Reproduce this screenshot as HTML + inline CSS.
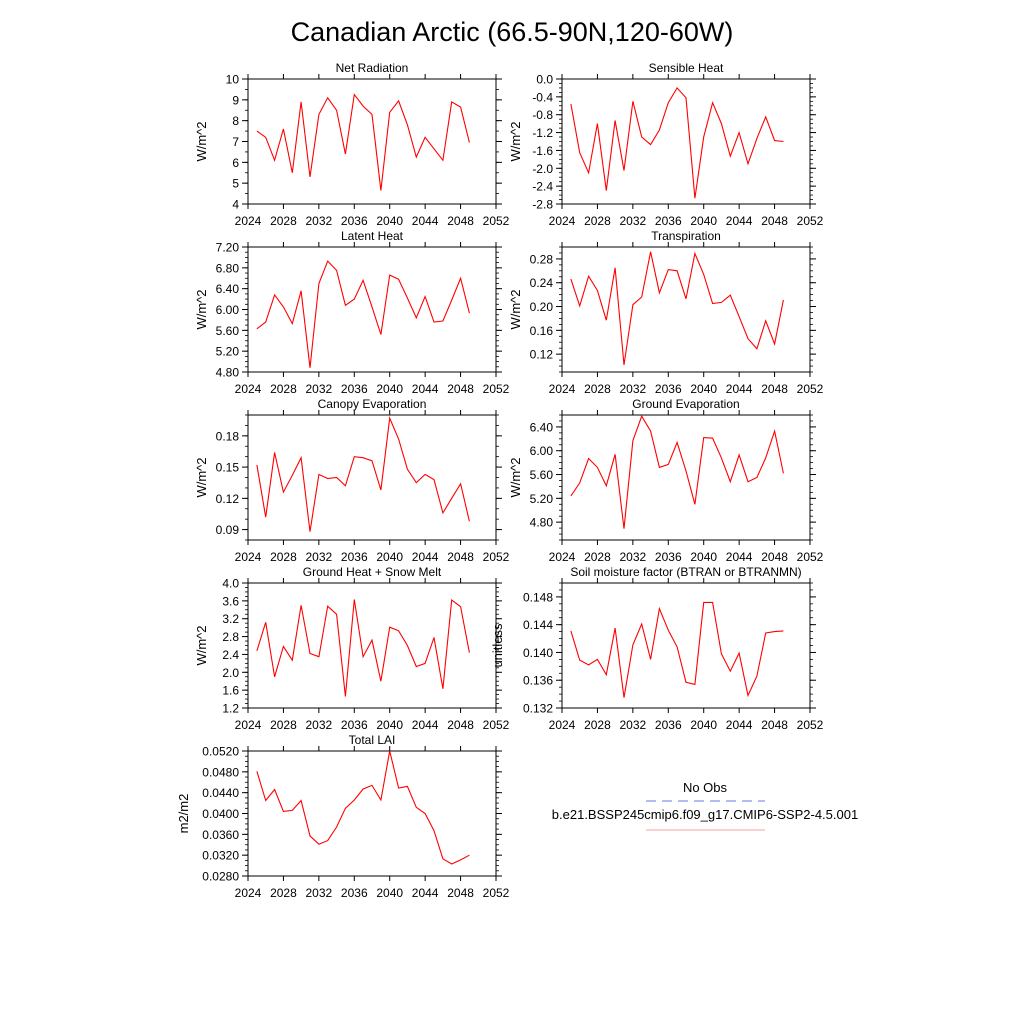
<!DOCTYPE html>
<html><head><meta charset="utf-8"><style>
body{margin:0;background:#fff;}
svg text{font-family:"Liberation Sans",sans-serif;fill:#000;}
</style></head><body>
<svg id="chart" width="1024" height="1024" viewBox="0 0 1024 1024" xmlns="http://www.w3.org/2000/svg">
<rect width="1024" height="1024" fill="#fff"/>
<text x="512" y="41" font-size="27" text-anchor="middle">Canadian Arctic (66.5-90N,120-60W)</text>
<g>
<text x="705" y="792" font-size="13" text-anchor="middle">No Obs</text>
<line x1="646" y1="801" x2="765" y2="801" stroke="#6677ee" stroke-width="1" stroke-dasharray="10,6"/>
<text x="705" y="819" font-size="13" text-anchor="middle">b.e21.BSSP245cmip6.f09_g17.CMIP6-SSP2-4.5.001</text>
<line x1="646" y1="830" x2="765" y2="830" stroke="#f4a0a0" stroke-width="1"/>
</g>
</svg>
<script>
const years=[2025,2026,2027,2028,2029,2030,2031,2032,2033,2034,2035,2036,2037,2038,2039,2040,2041,2042,2043,2044,2045,2046,2047,2048,2049];
const xTicks=[2024,2028,2032,2036,2040,2044,2048,2052];
const netRad=[7.5,7.2,6.1,7.6,5.5,8.9,5.3,8.3,9.1,8.5,6.4,9.25,8.7,8.3,4.65,8.4,8.95,7.8,6.25,7.2,6.65,6.1,8.9,8.65,6.95];
const sensible=[-0.56,-1.65,-2.1,-1.0,-2.5,-0.93,-2.05,-0.5,-1.3,-1.47,-1.14,-0.53,-0.2,-0.42,-2.67,-1.3,-0.53,-1.0,-1.73,-1.2,-1.9,-1.33,-0.85,-1.38,-1.4];
const latent=[5.63,5.76,6.28,6.05,5.73,6.36,4.88,6.5,6.93,6.75,6.08,6.2,6.56,6.05,5.52,6.66,6.58,6.22,5.84,6.25,5.76,5.78,6.18,6.6,5.93];
const transp=[0.246,0.201,0.251,0.227,0.177,0.265,0.102,0.203,0.216,0.292,0.223,0.262,0.260,0.213,0.289,0.254,0.205,0.207,0.219,0.183,0.146,0.129,0.176,0.137,0.211];
const canopy=[0.152,0.102,0.164,0.126,0.142,0.159,0.088,0.143,0.139,0.140,0.132,0.160,0.159,0.156,0.128,0.197,0.177,0.148,0.135,0.143,0.138,0.106,0.120,0.134,0.098];
const groundEvap=[5.24,5.46,5.87,5.72,5.41,5.94,4.69,6.17,6.58,6.33,5.72,5.77,6.14,5.66,5.10,6.22,6.21,5.88,5.48,5.93,5.48,5.55,5.88,6.33,5.62];
const groundHeat=[2.48,3.12,1.9,2.58,2.27,3.5,2.42,2.35,3.48,3.3,1.46,3.63,2.35,2.72,1.8,3.01,2.93,2.6,2.13,2.2,2.78,1.63,3.62,3.47,2.44];
const soilMoist=[0.1431,0.1389,0.1382,0.1390,0.1368,0.1435,0.1335,0.1411,0.1441,0.1390,0.1463,0.1432,0.1408,0.1357,0.1354,0.1472,0.1472,0.1398,0.1373,0.1399,0.1338,0.1366,0.1428,0.1430,0.1431];
const lai=[0.0481,0.0425,0.0446,0.0404,0.0406,0.0425,0.0357,0.0341,0.0348,0.0374,0.0410,0.0426,0.0447,0.0454,0.0426,0.0520,0.0449,0.0452,0.0412,0.0400,0.0367,0.0313,0.0303,0.0311,0.0320];
const netRadTicks=["4","5","6","7","8","9","10"];
const sensibleTicks=["-2.8","-2.4","-2.0","-1.6","-1.2","-0.8","-0.4","0.0"];
const latentTicks=["4.80","5.20","5.60","6.00","6.40","6.80","7.20"];
const transpTicks=["0.12","0.16","0.20","0.24","0.28"];
const canopyTicks=["0.09","0.12","0.15","0.18"];
const groundEvapTicks=["4.80","5.20","5.60","6.00","6.40"];
const groundHeatTicks=["1.2","1.6","2.0","2.4","2.8","3.2","3.6","4.0"];
const soilTicks=["0.132","0.136","0.140","0.144","0.148"];
const laiTicks=["0.0280","0.0320","0.0360","0.0400","0.0440","0.0480","0.0520"];

const NS="http://www.w3.org/2000/svg";
const svg=document.getElementById('chart');
function mk(tag,attrs,parent){const e=document.createElementNS(NS,tag);for(const k in attrs)e.setAttribute(k,attrs[k]);parent.appendChild(e);return e;}

const panels=[
 {name:'net-radiation',title:'Net Radiation',unit:'W/m^2',x:248,y:79,ymin:4,ymax:10,ticks:netRadTicks,minor:0.5,data:netRad},
 {name:'sensible-heat',title:'Sensible Heat',unit:'W/m^2',x:562,y:79,ymin:-2.8,ymax:0,ticks:sensibleTicks,minor:0.1,data:sensible},
 {name:'latent-heat',title:'Latent Heat',unit:'W/m^2',x:248,y:247,ymin:4.8,ymax:7.2,ticks:latentTicks,minor:0.1,data:latent},
 {name:'transpiration',title:'Transpiration',unit:'W/m^2',x:562,y:247,ymin:0.09,ymax:0.30,ticks:transpTicks,minor:0.01,data:transp},
 {name:'canopy-evaporation',title:'Canopy Evaporation',unit:'W/m^2',x:248,y:415,ymin:0.08,ymax:0.20,ticks:canopyTicks,minor:0.01,data:canopy},
 {name:'ground-evaporation',title:'Ground Evaporation',unit:'W/m^2',x:562,y:415,ymin:4.5,ymax:6.6,ticks:groundEvapTicks,minor:0.1,data:groundEvap},
 {name:'ground-heat-snow-melt',title:'Ground Heat + Snow Melt',unit:'W/m^2',x:248,y:583,ymin:1.2,ymax:4.0,ticks:groundHeatTicks,minor:0.1,data:groundHeat},
 {name:'soil-moisture-factor',title:'Soil moisture factor (BTRAN or BTRANMN)',unit:'unitless',x:562,y:583,ymin:0.132,ymax:0.150,ticks:soilTicks,minor:0.001,data:soilMoist},
 {name:'total-lai',title:'Total LAI',unit:'m2/m2',x:248,y:751,ymin:0.028,ymax:0.052,ticks:laiTicks,minor:0.001,data:lai}
];
const W=248,H=125,ML=5,mL=3;
panels.forEach(p=>{
 const g=mk('g',{},svg);
 
 
 const xs=v=>p.x+(v-2024)/(2052-2024)*W;
 const ys=v=>p.y+H-(v-p.ymin)/(p.ymax-p.ymin)*H;
 const t=mk('text',{x:p.x+W/2,y:p.y-7,'font-size':12,'text-anchor':'middle'},g);t.textContent=p.title;
 
 
 const fr=mk('rect',{x:p.x,y:p.y,width:W,height:H,fill:'none',stroke:'#000','stroke-width':1},g);
 
 
 // x ticks
 xTicks.forEach(v=>{
  const X=xs(v);
  mk('line',{x1:X,y1:p.y+H,x2:X,y2:p.y+H+ML,stroke:'#000'},g);
  mk('line',{x1:X,y1:p.y,x2:X,y2:p.y-ML,stroke:'#000'},g);
  const l=mk('text',{x:X,y:p.y+H+21,'font-size':12,'text-anchor':'middle'},g);l.textContent=v;
  
  
 });
 // minor y ticks
 const n=Math.round((p.ymax-p.ymin)/p.minor);
 for(let i=0;i<=n;i++){const Y=ys(p.ymin+i*p.minor);
  mk('line',{x1:p.x,y1:Y,x2:p.x-mL,y2:Y,stroke:'#000','stroke-width':0.8},g);
  mk('line',{x1:p.x+W,y1:Y,x2:p.x+W+mL,y2:Y,stroke:'#000','stroke-width':0.8},g);}
 p.ticks.forEach(s=>{
  const Y=ys(parseFloat(s));
  mk('line',{x1:p.x,y1:Y,x2:p.x-ML-1,y2:Y,stroke:'#000'},g);
  mk('line',{x1:p.x+W,y1:Y,x2:p.x+W+ML+1,y2:Y,stroke:'#000'},g);
  const l=mk('text',{x:p.x-9,y:Y+4.5,'font-size':12,'text-anchor':'end'},g);l.textContent=s;
  
  
 });
 const yl=p.x-(p.ticks[0].length>4?60:42);
 const ut=mk('text',{x:yl,y:p.y+H/2,'font-size':13,'text-anchor':'middle',transform:`rotate(-90 ${yl} ${p.y+H/2})`},g);ut.textContent=p.unit;
 
 
 const pts=p.data.map((v,i)=>xs(years[i]).toFixed(1)+','+ys(v).toFixed(1)).join(' ');
 const pl=mk('polyline',{points:pts,fill:'none',stroke:'#ff0000','stroke-width':1.1},g);
 
 
});
</script>
</body></html>
